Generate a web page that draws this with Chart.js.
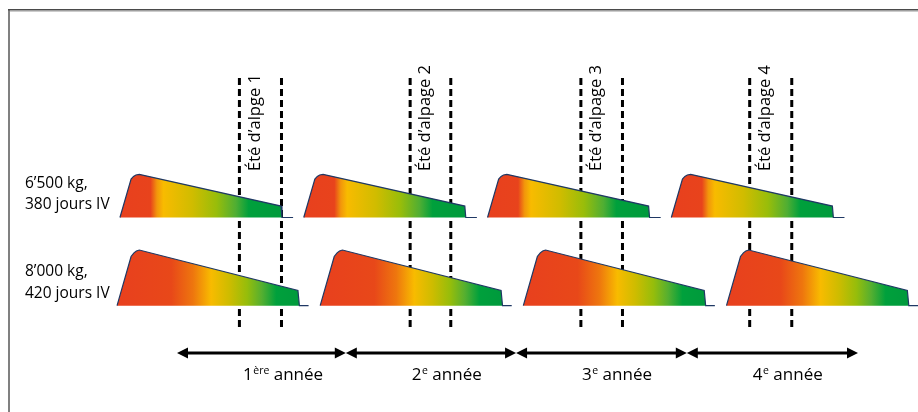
<!DOCTYPE html>
<html lang="fr">
<head>
<meta charset="utf-8">
<title>Lactations et étés d'alpage</title>
<script src="https://cdn.jsdelivr.net/npm/chart.js@4.4.1/dist/chart.umd.min.js"></script>
<style>
  html, body { margin: 0; padding: 0; background: #fff; }
  #wrap { width: 918px; height: 412px; }
</style>
</head>
<body>
<div id="wrap"><canvas id="chart"></canvas></div>
<script>
// Lactation profile: days after calving / milk (kg per day)
const topProfileDays = [0, 23, 28, 33, 40, 333, 335, 358];
const topProfileYield = [0, 32, 34.2, 35.4, 36, 9.5, 0, 0];
const bottomProfileDays = [0, 29, 35, 40, 46, 374, 377, 396];
const bottomProfileYield = [0, 41, 44, 45.6, 46.4, 12.7, 0, 0];

// Calving days (380 and 420 days calving interval)
const topCalvings = [6, 386, 766, 1146];
const bottomCalvings = [0, 420, 840, 1260];

const rowLabels = [['6’500 kg,', '380 jours IV'], ['8’000 kg,', '420 jours IV']];

// Alpine summers
const summerStart = [253, 606, 959, 1308];
const summerEnd = [340, 690, 1045, 1395];
const summerLabels = ['Été d’alpge 1', 'Été d’alpage 2', 'Été d’alpage 3', 'Été d’alpage 4'];

// Years
const yearBounds = [124, 473, 825, 1178, 1532];
const yearNumbers = ['1', '2', '3', '4'];
const yearSup = ['ère', 'e', 'e', 'e'];

const FONT = '"Open Sans", "DejaVu Sans", sans-serif';
const TOP_BASE = 73.5; // baseline of upper row (y units)
const END_POINT = 5;    // index of the drying-off point in the profiles

// colour stops along each lactation (0 = calving, 1 = drying off)
const topStops = [[0, '#e8401e'], [0.19, '#e8431c'], [0.23, '#f2960b'], [0.27, '#f8bb00'],
  [0.45, '#d0bc00'], [0.6, '#98bd0a'], [0.72, '#4fae33'], [0.8, '#00a03c'], [1, '#009a3c']];
const bottomStops = [[0, '#e8401e'], [0.3, '#e84819'], [0.42, '#ee760e'], [0.52, '#f8bb00'],
  [0.62, '#cebc00'], [0.72, '#95bd0b'], [0.8, '#55af30'], [0.88, '#00a03c'], [1, '#009a3c']];

function gradientFor(chart, from, to, stops) {
  if (!chart.chartArea) return stops[0][1];
  const x = chart.scales.x;
  const g = chart.ctx.createLinearGradient(x.getPixelForValue(from), 0, x.getPixelForValue(to), 0);
  stops.forEach(s => g.addColorStop(s[0], s[1]));
  return g;
}

function lactation(start, days, yields, base, stops) {
  return {
    data: days.map((d, i) => ({ x: start + d, y: base + yields[i] })),
    fill: { value: base },
    borderColor: '#1f3864',
    borderWidth: 1.2,
    pointRadius: 0,
    tension: 0,
    order: 0,
    backgroundColor: ctx => gradientFor(ctx.chart, start, start + days[END_POINT], stops)
  };
}

const datasets = [];
topCalvings.forEach(s => datasets.push(lactation(s, topProfileDays, topProfileYield, TOP_BASE, topStops)));
bottomCalvings.forEach(s => datasets.push(lactation(s, bottomProfileDays, bottomProfileYield, 0, bottomStops)));

// dashed summer limits (drawn under the lactations)
summerStart.concat(summerEnd).forEach(d => {
  datasets.push({
    data: [{ x: d, y: -17.8 }, { x: d, y: 193 }],
    borderColor: '#000',
    borderWidth: 3,
    borderDash: [7, 4],
    pointRadius: 0,
    fill: false,
    order: 1
  });
});

function arrowHead(ctx, tipX, y, dir) {
  ctx.beginPath();
  ctx.moveTo(tipX, y);
  ctx.lineTo(tipX + dir * 11, y - 5.5);
  ctx.lineTo(tipX + dir * 11, y + 5.5);
  ctx.closePath();
  ctx.fill();
}

const decor = {
  id: 'decor',
  beforeDraw(chart) {
    const ctx = chart.ctx;
    ctx.save();
    ctx.fillStyle = '#fff';
    ctx.fillRect(0, 0, chart.width, chart.height);
    ctx.fillStyle = '#808080';
    ctx.fillRect(8, 9, 2, chart.height);
    ctx.fillStyle = '#4a4a4a';
    ctx.fillRect(8, 9, chart.width, 1.5);
    ctx.fillStyle = '#9a9a9a';
    ctx.fillRect(10, 10.5, chart.width, 1);
    ctx.restore();
  },
  afterDraw(chart) {
    const ctx = chart.ctx;
    const xs = chart.scales.x, ys = chart.scales.y;
    ctx.save();
    ctx.fillStyle = '#000';

    // row labels
    ctx.font = '15.5px ' + FONT;
    ctx.textAlign = 'left';
    ctx.textBaseline = 'alphabetic';
    [TOP_BASE, 0].forEach((base, r) => {
      const by = ys.getPixelForValue(base);
      ctx.fillText(rowLabels[r][0], 25, by - 29.5);
      ctx.fillText(rowLabels[r][1], 25, by - 8);
    });

    // summer labels (rotated)
    ctx.font = '16.5px ' + FONT;
    summerLabels.forEach((t, i) => {
      const mid = (xs.getPixelForValue(summerStart[i]) + xs.getPixelForValue(summerEnd[i])) / 2;
      ctx.save();
      ctx.translate(mid - 0.5, 171);
      ctx.rotate(-Math.PI / 2);
      ctx.fillText(t, 0, 0);
      ctx.restore();
    });

    // year arrows
    const ay = 353;
    ctx.strokeStyle = '#000';
    ctx.lineWidth = 3;
    for (let i = 0; i < yearNumbers.length; i++) {
      const x0 = xs.getPixelForValue(yearBounds[i]);
      const x1 = xs.getPixelForValue(yearBounds[i + 1]);
      ctx.beginPath();
      ctx.moveTo(x0 + 8, ay);
      ctx.lineTo(x1 - 8, ay);
      ctx.stroke();
      arrowHead(ctx, x0, ay, 1);
      arrowHead(ctx, x1, ay, -1);

      // label with superscript
      let lx = x0 + 66;
      const ly = 380;
      ctx.font = '17px ' + FONT;
      ctx.fillText(yearNumbers[i], lx, ly);
      lx += ctx.measureText(yearNumbers[i]).width + 0.5;
      ctx.font = '10.5px ' + FONT;
      ctx.fillText(yearSup[i], lx, ly - 6);
      lx += ctx.measureText(yearSup[i]).width;
      ctx.font = '17px ' + FONT;
      ctx.fillText(' année', lx, ly);
    }
    ctx.restore();
  }
};

new Chart(document.getElementById('chart'), {
  type: 'line',
  data: { datasets },
  options: {
    responsive: true,
    maintainAspectRatio: false,
    animation: false,
    layout: { padding: 0 },
    scales: {
      x: { type: 'linear', min: -242, max: 1656, display: false },
      y: { type: 'linear', min: -88.6, max: 254.75, display: false }
    },
    plugins: {
      legend: { display: false },
      tooltip: { enabled: false }
    }
  },
  plugins: [decor]
});
</script>
</body>
</html>
